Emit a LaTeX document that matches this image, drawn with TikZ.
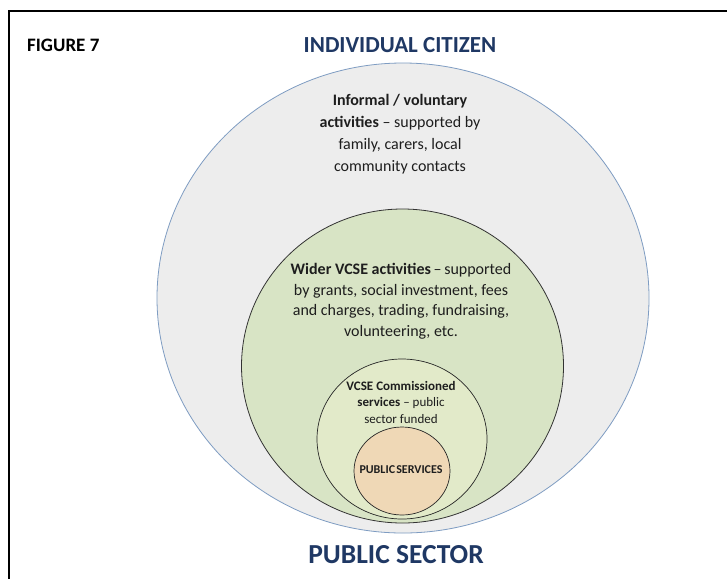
\documentclass[tikz,border=0pt]{standalone}
\usepackage{fontspec}
\setmainfont{Carlito}
\usetikzlibrary{shapes.geometric}
\definecolor{navy}{HTML}{1F3864}
\definecolor{outerfill}{HTML}{EDEDED}
\definecolor{outerline}{HTML}{7E9CC2}
\definecolor{greenfill}{HTML}{D8E4C5}
\definecolor{commfill}{HTML}{E2EAC9}
\definecolor{pubfill}{HTML}{EFD8B6}
\definecolor{txt}{HTML}{1E1E1E}
\tikzset{
  ring/.style={ellipse, inner sep=0pt, outer sep=0pt},
  bodytext/.style={align=center, text=txt, inner sep=0pt},
  title/.style={text=navy, font=\bfseries, inner sep=0pt}
}
\begin{document}
\begin{tikzpicture}[x=1pt,y=-1pt]
\useasboundingbox (0,0) rectangle (727,579);
\fill[white] (0,0) rectangle (727,579);
\draw[line width=2pt] (727,11) -- (9,11) -- (9,579);

\node[ring, fill=outerfill, draw=outerline, line width=0.8pt, minimum width=492pt, minimum height=470pt] (outer) at (403,298) {};
\node[ring, fill=greenfill, draw=black!80, line width=0.8pt, minimum width=322pt, minimum height=314pt] (wider) at (402.5,366) {};
\node[ring, fill=commfill, draw=black!85, line width=0.7pt, minimum width=170pt, minimum height=160pt] (comm) at (402,439) {};
\node[ring, fill=pubfill, draw=black!85, line width=0.7pt, minimum width=96pt, minimum height=88pt] (pub) at (402,471) {};

\node[anchor=west, inner sep=0pt, font=\fontsize{19}{21}\selectfont\bfseries, text=black] (fig) at (27,45) {FIGURE 7};
\node[title, font=\fontsize{23}{26}\selectfont\bfseries] (citizen) at (400,45) {INDIVIDUAL CITIZEN};
\node[title, font=\fontsize{27.5}{30}\selectfont\bfseries] (sector) at (396,555) {PUBLIC SECTOR};

\node[bodytext, font=\fontsize{16}{22}\selectfont] (informal) at (400,134) {\textbf{Informal / voluntary}\\\textbf{activities} -- supported by\\family, carers, local\\community contacts};
\node[bodytext, font=\fontsize{16}{20.5}\selectfont] (widertxt) at (401,301) {\textbf{Wider VCSE activities}\,--\,supported\\by grants, social investment, fees\\and charges, trading, fundraising,\\volunteering, etc.};
\node[bodytext, font=\fontsize{13}{16.5}\selectfont] (commtxt) at (401,402) {\textbf{VCSE Commissioned}\\\textbf{services} -- public\\sector funded};
\node[bodytext, font=\fontsize{12}{13}\selectfont\bfseries] (pubtxt) at (401,470) {PUBLIC\hspace{0.1em}SERVICES};
\end{tikzpicture}
\end{document}
